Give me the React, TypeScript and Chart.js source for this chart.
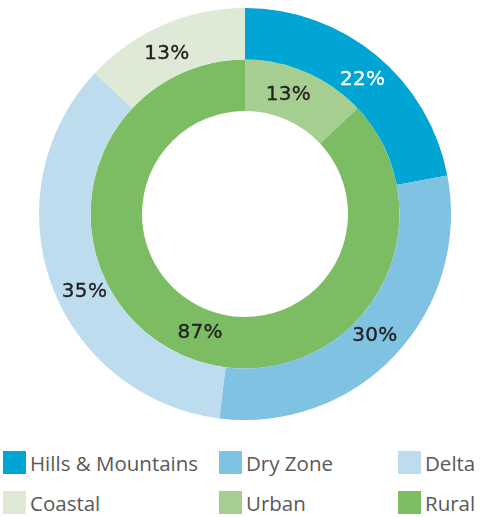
import React, { useEffect, useRef } from "react";
import { Chart, registerables } from "chart.js";

Chart.register(...registerables);

const outerLabels = ["Hills & Mountains", "Dry Zone", "Delta", "Coastal"];
const outerValues = [22, 30, 35, 13];
const outerColors = ["#00A5D3", "#7FC2E2", "#BDDDEF", "#DEEAD5"];
const outerTextColors = ["#FFFFFF", "#231F20", "#231F20", "#231F20"];

const innerLabels = ["Urban", "Rural"];
const innerValues = [13, 87];
const innerColors = ["#A6CE91", "#7CBC63"];
const innerTextColors = ["#231F20", "#231F20"];

// small angular nudges (degrees) for label placement inside each arc
const outerLabelNudge = [1.7, 0, -6, -2.6];
const innerLabelNudge = [-3.4, -2.7];

const legendItems = [
  { label: outerLabels[0], color: outerColors[0] },
  { label: outerLabels[1], color: outerColors[1] },
  { label: outerLabels[2], color: outerColors[2] },
  { label: outerLabels[3], color: outerColors[3] },
  { label: innerLabels[0], color: innerColors[0] },
  { label: innerLabels[1], color: innerColors[1] },
];

const legendCols = [3, 219, 398];
const legendRows = [451, 491];

const pctLabelPlugin = {
  id: "pctLabels",
  afterDatasetsDraw(chart: any) {
    const ctx = chart.ctx;
    ctx.save();
    ctx.font = "20px 'DejaVu Sans', sans-serif";
    (ctx as any).letterSpacing = "0.3px";
    ctx.textAlign = "center";
    ctx.textBaseline = "middle";
    ctx.lineWidth = 0.35;
    ctx.lineJoin = "round";
    chart.data.datasets.forEach((ds: any, di: number) => {
      const meta = chart.getDatasetMeta(di);
      meta.data.forEach((arc: any, i: number) => {
        const p = arc.getProps(["x", "y", "startAngle", "endAngle", "innerRadius", "outerRadius"], true);
        const a = (p.startAngle + p.endAngle) / 2 + ((ds.nudge[i] || 0) * Math.PI) / 180;
        const r = (p.innerRadius + p.outerRadius) / 2 - 2;
        const x = p.x + Math.cos(a) * r;
        const y = p.y + Math.sin(a) * r;
        const t = ds.data[i] + "%";
        ctx.fillStyle = ds.textColors[i];
        ctx.strokeStyle = ds.textColors[i];
        ctx.fillText(t, x, y);
        ctx.strokeText(t, x, y);
      });
    });
    ctx.restore();
  },
};

export default function App() {
  const ref = useRef<HTMLCanvasElement>(null);
  useEffect(() => {
    if (!ref.current) return;
    const chart = new Chart(ref.current, {
      type: "doughnut",
      data: {
        labels: [...outerLabels, ...innerLabels],
        datasets: [
          {
            data: outerValues,
            backgroundColor: outerColors,
            borderWidth: 0,
            textColors: outerTextColors,
            nudge: outerLabelNudge,
          } as any,
          {
            data: innerValues,
            backgroundColor: innerColors,
            borderWidth: 0,
            textColors: innerTextColors,
            nudge: innerLabelNudge,
          } as any,
        ],
      },
      options: {
        responsive: false,
        animation: false,
        cutout: "50%",
        layout: { padding: { left: 39, right: 31, top: 8, bottom: 10 } },
        plugins: {
          legend: { display: false },
          tooltip: { enabled: false },
        },
      },
      plugins: [pctLabelPlugin],
    });
    return () => chart.destroy();
  }, []);

  return (
    <div
      style={{
        position: "fixed",
        left: 0,
        top: 0,
        width: 482,
        height: 517,
        background: "#fff",
      }}
    >
      <canvas
        ref={ref}
        width={482}
        height={430}
        style={{ position: "absolute", left: 0, top: 0, width: 482, height: 430 }}
      />
      {legendItems.map((it, i) => (
        <div
          key={it.label}
          style={{
            position: "absolute",
            left: legendCols[i % 3],
            top: legendRows[Math.floor(i / 3)],
            height: 23,
            display: "flex",
            alignItems: "center",
            whiteSpace: "nowrap",
            fontFamily: "'Open Sans'",
            fontSize: 20.5,
            color: "#595959",
          }}
        >
          <span
            style={{
              display: "inline-block",
              width: 23,
              height: 23,
              background: it.color,
              marginRight: 4,
            }}
          />
          <span>{it.label}</span>
        </div>
      ))}
    </div>
  );
}
